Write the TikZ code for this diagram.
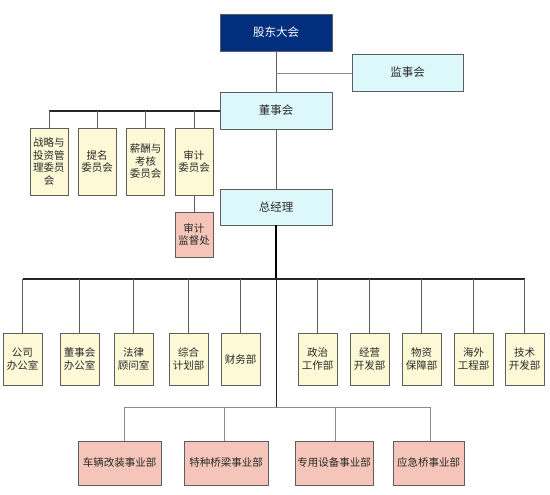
\documentclass[tikz,border=0pt]{standalone}
\usepackage{fontspec}
\newfontfamily\cjk{Noto Sans CJK SC}
\definecolor{navy}{HTML}{012F7D}
\definecolor{cyanfill}{HTML}{DDF8FB}
\definecolor{yelfill}{HTML}{FDF8D5}
\definecolor{pinkfill}{HTML}{F4C5B8}
\definecolor{edge}{HTML}{5E5E5E}
\definecolor{txt}{HTML}{2A2A2A}
\definecolor{lgray}{HTML}{8A8A8A}
\begin{document}
\begin{tikzpicture}[x=1pt,y=-1pt,
  box/.style={draw=edge,line width=0.9pt,inner sep=0pt,align=center,text=txt,
    font=\cjk\fontsize{10.5}{12.5}\selectfont},
  topbox/.style={box,minimum width=112pt,minimum height=37pt,fill=cyanfill,
    font=\cjk\fontsize{11.5}{13}\selectfont},
  combox/.style={box,minimum width=38pt,minimum height=67pt,fill=yelfill},
  deptbox/.style={box,minimum width=39pt,minimum height=52pt,fill=yelfill},
  bizbox/.style={box,minimum height=44pt,fill=pinkfill},
  conn/.style={draw=edge,line width=0.8pt},
  lconn/.style={draw=lgray,line width=0.8pt},
  busline/.style={draw=black!85,line width=1.1pt},
  trunk/.style={draw=black,line width=1.8pt}
]
\useasboundingbox (0,0) rectangle (550,495);
% top level
\node[topbox,fill=navy,text=white,draw=edge] (gd) at (276,32.5) {股东大会};
\node[topbox,minimum width=111pt] (js) at (407.5,72.5) {监事会};
\node[topbox] (ds) at (276,110.5) {董事会};
\node[topbox,minimum height=36pt] (zjl) at (276,207) {总经理};
% committees
\node[combox] (c1) at (49,161.5) {战略与\\投资管\\理委员\\会};
\node[combox] (c2) at (97,161.5) {提名\\委员会};
\node[combox] (c3) at (145.5,161.5) {薪酬与\\考核\\委员会};
\node[combox] (c4) at (194,161.5) {审计\\委员会};
\node[box,minimum width=38pt,minimum height=45pt,fill=pinkfill] (sj) at (194,234.5) {审计\\监督处};
% departments
\node[deptbox] (d1) at (22.5,359) {公司\\办公室};
\node[deptbox] (d2) at (79.5,359) {董事会\\办公室};
\node[deptbox] (d3) at (133.5,359) {法律\\顾问室};
\node[deptbox] (d4) at (188.5,359) {综合\\计划部};
\node[deptbox] (d5) at (240.5,359) {财务部};
\node[deptbox] (d6) at (317.5,359) {政治\\工作部};
\node[deptbox] (d7) at (369.5,359) {经营\\开发部};
\node[deptbox] (d8) at (421.5,359) {物资\\保障部};
\node[deptbox] (d9) at (473.5,359) {海外\\工程部};
\node[deptbox] (d10) at (524.5,359) {技术\\开发部};
% business units
\node[bizbox,minimum width=83pt] (b1) at (119.5,463) {车辆改装事业部};
\node[bizbox,minimum width=84pt] (b2) at (226,463) {特种桥梁事业部};
\node[bizbox,minimum width=78pt] (b3) at (334,463) {专用设备事业部};
\node[bizbox,minimum width=71pt] (b4) at (428.5,463) {应急桥事业部};
% bus coordinates
\coordinate (jsj) at (276,73);
\coordinate (cbus) at (49,111);
\coordinate (dbus) at (276,279);
\coordinate (bbus) at (276,407);
% connectors
\draw[conn] (gd) -- (ds);
\draw[lconn] (jsj) -- (jsj -| js.west);
\draw[busline] (c1.north |- cbus) -- (cbus -| ds.west);
\foreach \c in {c1,c2,c3,c4}{\draw[conn] (\c.north) -- (\c.north |- cbus);}
\draw[conn] (c4) -- (sj);
\draw[conn] (ds) -- (zjl);
\draw[trunk] (zjl.south) -- (dbus);
\draw[busline] (d1.north |- dbus) -- (d10.north |- dbus);
\foreach \d in {d1,d2,d3,d4,d5,d6,d7,d8,d9,d10}{\draw[conn] (\d.north) -- (\d.north |- dbus);}
\draw[busline,line width=0.9pt] (dbus) -- (bbus);
\draw[lconn] ([xshift=4.5pt]b1.north |- bbus) -- ([xshift=1.5pt]b4.north |- bbus);
\draw[lconn] ([xshift=4.5pt]b1.north) -- ([xshift=4.5pt]b1.north |- bbus);
\draw[lconn] ([xshift=-2pt]b2.north) -- ([xshift=-2pt]b2.north |- bbus);
\draw[lconn] ([xshift=1pt]b3.north) -- ([xshift=1pt]b3.north |- bbus);
\draw[lconn] ([xshift=1.5pt]b4.north) -- ([xshift=1.5pt]b4.north |- bbus);
\end{tikzpicture}
\end{document}
